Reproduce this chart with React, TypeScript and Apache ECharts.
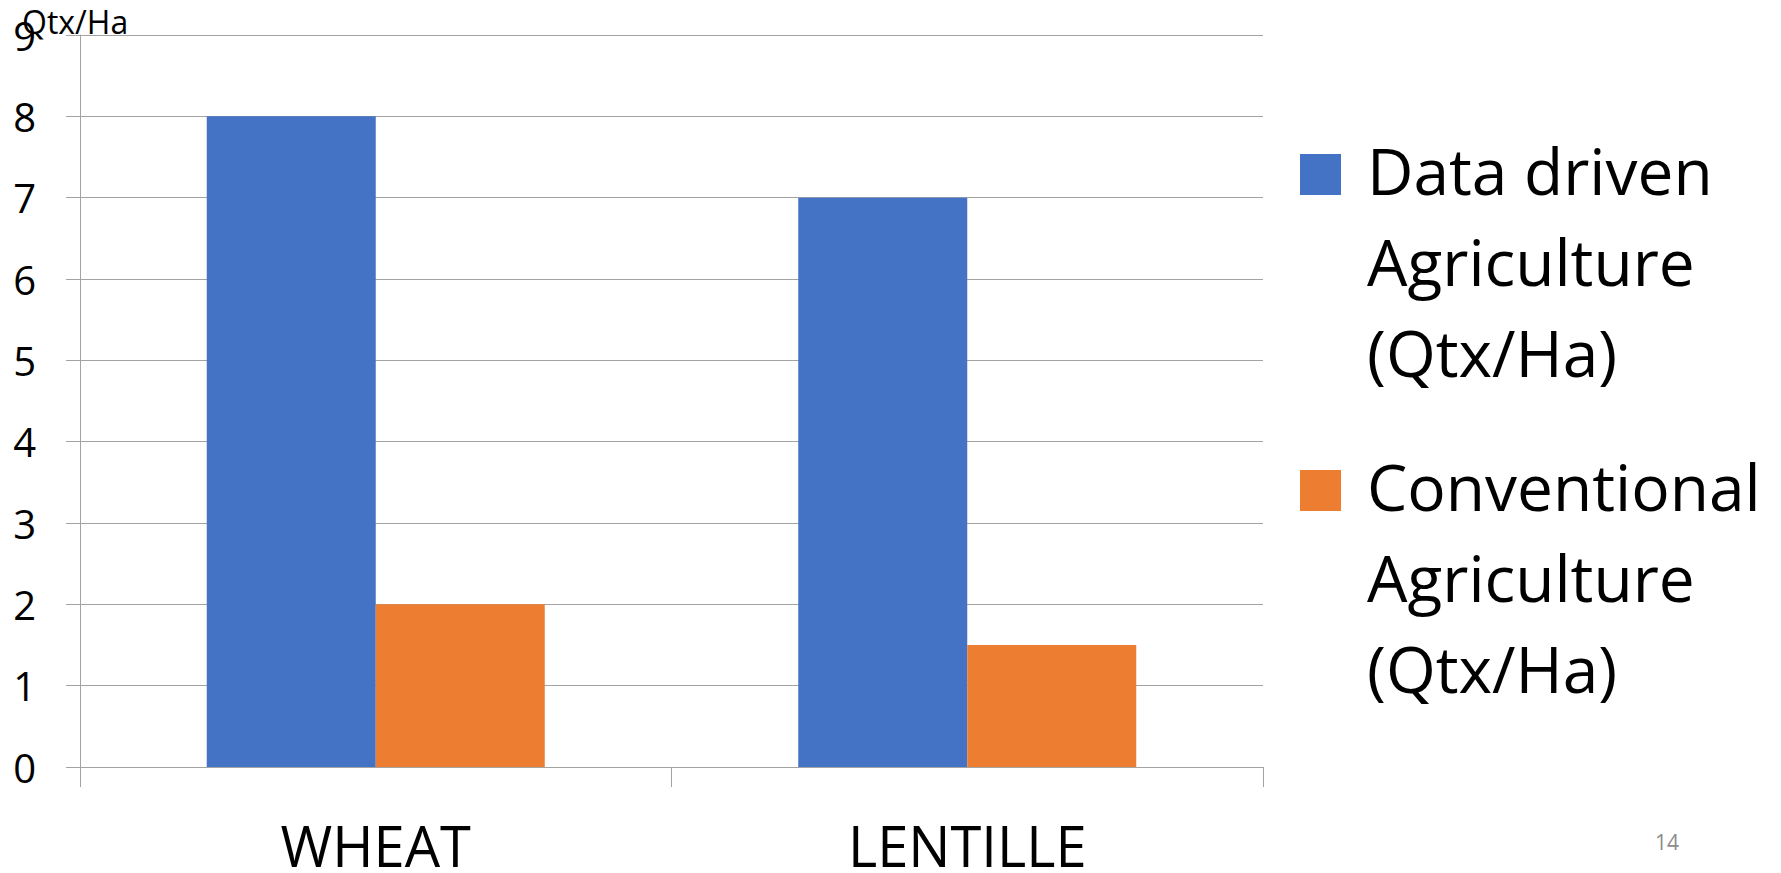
import React, { useEffect, useRef } from "react";
import * as echarts from "echarts";

const categories = ["WHEAT", "LENTILLE"];
const dataDriven = [8, 7];
const conventional = [2, 1.5];
const seriesNames = ["Data driven\nAgriculture\n(Qtx/Ha)", "Conventional\nAgriculture\n(Qtx/Ha)"];
const yTicks = { min: 0, max: 9, interval: 1 };
const yUnit = "Qtx/Ha";
const pageNumber = "14";

const FONT = "'Open Sans', sans-serif";
const BLUE = "#4472C4";
const ORANGE = "#ED7D31";
const GRID = "#a3a3a3";

export default function App() {
  const ref = useRef<HTMLDivElement>(null);
  useEffect(() => {
    if (!ref.current) return;
    const chart = echarts.init(ref.current, undefined, { renderer: "svg" });
    chart.setOption({
      animation: false,
      backgroundColor: "#ffffff",
      textStyle: { fontFamily: FONT },
      grid: { left: 80, top: 35, right: 518, bottom: 105, containLabel: false },
      xAxis: {
        type: "category",
        data: categories,
        axisLine: { show: true, lineStyle: { color: GRID, width: 1 } },
        axisTick: { show: true, length: 20, lineStyle: { color: GRID, width: 1 } },
        axisLabel: {
          fontSize: 56,
          lineHeight: 40,
          color: "#000",
          fontFamily: FONT,
          margin: 58,
        },
      },
      yAxis: {
        type: "value",
        min: yTicks.min,
        max: yTicks.max,
        interval: yTicks.interval,
        axisLine: { show: true, lineStyle: { color: GRID, width: 1 } },
        axisTick: { show: true, length: 14, lineStyle: { color: GRID, width: 1 } },
        splitLine: { show: true, lineStyle: { color: GRID, width: 1 } },
        axisLabel: { fontSize: 40, color: "#000", fontFamily: FONT, margin: 44 },
      },
      series: [
        {
          name: seriesNames[0],
          type: "bar",
          data: dataDriven,
          barWidth: 169,
          barGap: "0%",
          itemStyle: { color: BLUE },
        },
        {
          name: seriesNames[1],
          type: "bar",
          data: conventional,
          barWidth: 169,
          barGap: "0%",
          itemStyle: { color: ORANGE },
        },
      ],
      graphic: [
        {
          type: "text",
          x: 22,
          y: 21,
          style: { text: yUnit, fontSize: 32, fontFamily: FONT, fill: "#000", verticalAlign: "middle", align: "left" },
        },
        { type: "rect", shape: { x: 1300, y: 154, width: 41, height: 41 }, style: { fill: BLUE } },
        {
          type: "text",
          x: 1367,
          y: 124.5,
          style: { text: seriesNames[0], fontSize: 64, lineHeight: 91, fontFamily: FONT, fill: "#000", verticalAlign: "top", align: "left" },
        },
        { type: "rect", shape: { x: 1300, y: 470, width: 41, height: 41 }, style: { fill: ORANGE } },
        {
          type: "text",
          x: 1367,
          y: 440.5,
          style: { text: seriesNames[1], fontSize: 64, lineHeight: 91, fontFamily: FONT, fill: "#000", verticalAlign: "top", align: "left" },
        },
        {
          type: "text",
          x: 1655,
          y: 842,
          style: { text: pageNumber, fontSize: 21, fontFamily: FONT, fill: "#8c8c8c", verticalAlign: "middle", align: "left" },
        },
      ],
    });
    return () => chart.dispose();
  }, []);
  return <div ref={ref} style={{ position: "absolute", left: 0, top: 0, width: 1781, height: 873 }} />;
}
